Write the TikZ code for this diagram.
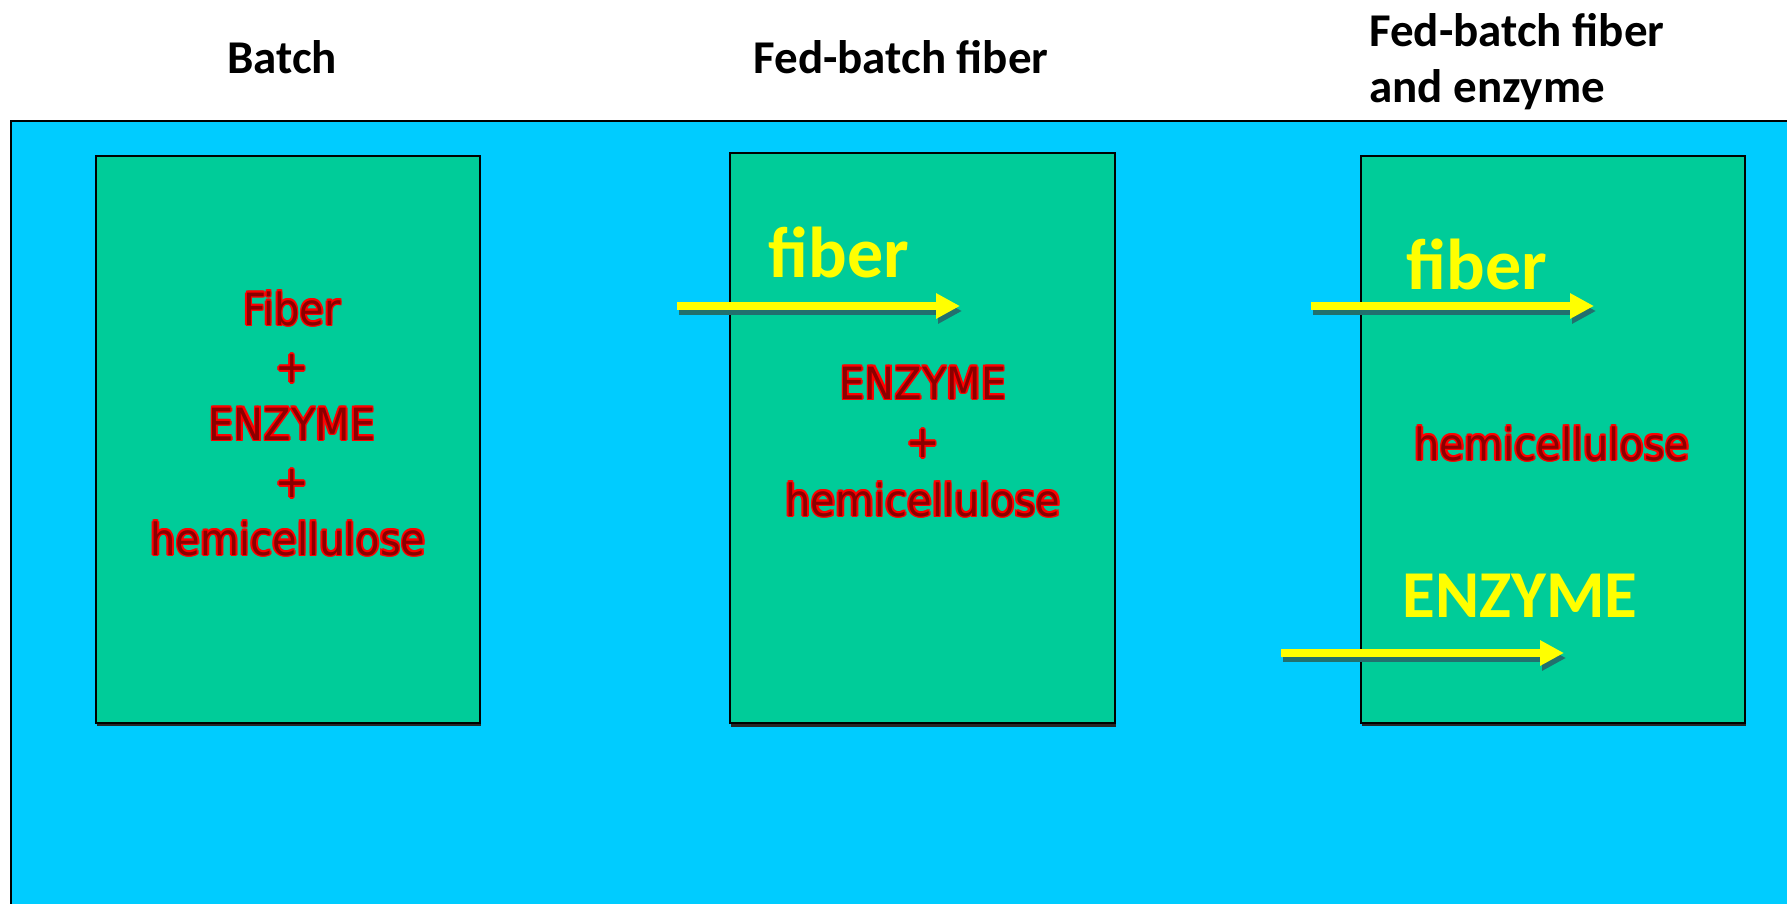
\documentclass[tikz,border=0pt]{standalone}
\usepackage{fontspec}
\usetikzlibrary{arrows.meta}
\newfontfamily\calfont{Carlito}
\newfontfamily\redfont{DejaVu Sans Condensed}
\definecolor{panelblue}{HTML}{00CCFF}
\definecolor{boxgreen}{HTML}{00CC99}
\definecolor{feedyellow}{HTML}{FFFF00}
\definecolor{rimred}{HTML}{FF0000}
\definecolor{rimcore}{HTML}{8A0000}
\definecolor{arrowshadow}{HTML}{22706E}
\newbox\rimbox
\newcommand\rimcopy[2]{\rlap{\kern#1\raise#2\hbox{\textcolor{rimred}{\copy\rimbox}}}}
\newcommand\rim[1]{\setbox\rimbox\hbox{#1}%
 \rimcopy{-.8pt}{0pt}\rimcopy{.8pt}{0pt}\rimcopy{0pt}{-.8pt}\rimcopy{0pt}{.8pt}%
 \rimcopy{-.57pt}{-.57pt}\rimcopy{.57pt}{.57pt}\rimcopy{-.57pt}{.57pt}\rimcopy{.57pt}{-.57pt}%
 \textcolor{rimcore}{\copy\rimbox}}
\tikzset{
  panelbox/.style={draw=black, fill=panelblue, line width=1pt, anchor=north west, inner sep=0, outer sep=0},
  reactor/.style={draw=black, fill=boxgreen, line width=0.8pt, anchor=north west, inner sep=0, outer sep=0},
  reactorshadow/.style={fill=black!85, anchor=north west, inner sep=0, outer sep=0},
  titletext/.style={font=\calfont\bfseries\fontsize{23.5}{28}\selectfont, text=black, inner sep=0, anchor=base},
  contents/.style={font=\redfont\fontsize{22.2}{27}\selectfont, inner sep=0, anchor=base},
  feedtext/.style={font=\calfont\bfseries\fontsize{36}{40}\selectfont, text=feedyellow, inner sep=0, anchor=base},
  feedarrow/.style={draw=feedyellow, line width=4pt, -{Triangle[length=12pt,width=12pt]}},
  feedshadow/.style={draw=arrowshadow, line width=4pt, -{Triangle[length=12pt,width=12pt]}},
}
\begin{document}
\begin{tikzpicture}[x=0.5pt,y=-0.5pt]
\useasboundingbox (0,0) rectangle (1787,904);
\fill[white] (0,0) rectangle (1787,904);
\clip (0,0) rectangle (1787,904);

% titles
\node[titletext] (t1) at (282,74) {Batch};
\node[titletext] (t2) at (901,74) {Fed-batch fiber};
\node[titletext, anchor=base west] (t3a) at (1369,47) {Fed-batch fiber};
\node[titletext, anchor=base west] (t3b) at (1369,103) {and enzyme};

% panel
\node[panelbox, minimum width=900pt, minimum height=400pt] (panel) at (11,121) {};

% reactor shadows
\node[reactorshadow, minimum width=192pt, minimum height=283.5pt] (s1) at (96.5,159) {};
\node[reactorshadow, minimum width=192.5pt, minimum height=285pt] (s2) at (730.5,157) {};
\node[reactorshadow, minimum width=192pt, minimum height=283.5pt] (s3) at (1361.5,159) {};

% reactors
\node[reactor, minimum width=192pt, minimum height=283.5pt] (b1) at (96,156) {};
\node[reactor, minimum width=192.5pt, minimum height=285pt] (b2) at (730,153) {};
\node[reactor, minimum width=192pt, minimum height=283.5pt] (b3) at (1361,156) {};

% batch contents
\node[contents] (b1l1) at (292,325) {\rim{Fiber}};
\node[contents] (b1l2) at (292,382.5) {\rim{+}};
\node[contents] (b1l3) at (292,440) {\rim{ENZYME}};
\node[contents] (b1l4) at (292,497.5) {\rim{+}};
\node[contents] (b1l5) at (288,555) {\rim{hemicellulose}};

% fed-batch fiber contents
\node[contents] (b2l1) at (923,399) {\rim{ENZYME}};
\node[contents] (b2l2) at (923,457.5) {\rim{+}};
\node[contents] (b2l3) at (923,516) {\rim{hemicellulose}};

% fed-batch fiber and enzyme contents
\node[contents] (b3l1) at (1552,460) {\rim{hemicellulose}};

% feed labels
\node[feedtext] (f2) at (839,277) {fiber};
\node[feedtext] (f3) at (1477,289) {fiber};
\node[feedtext, font=\calfont\bfseries\fontsize{33.5}{38}\selectfont] (e3) at (1520,617) {ENZYME};

% feed arrows
\coordinate (a2s) at (677,306);  \coordinate (a2e) at (960,306);
\coordinate (a3s) at (1311,306); \coordinate (a3e) at (1594,306);
\coordinate (a4s) at (1281,653); \coordinate (a4e) at (1564,653);
\foreach \s/\e in {a2s/a2e, a3s/a3e, a4s/a4e}{
  \draw[feedshadow] ([shift={(2,5)}]\s) -- ([shift={(2,5)}]\e);
  \draw[feedarrow] (\s) -- (\e);
}
\end{tikzpicture}
\end{document}
